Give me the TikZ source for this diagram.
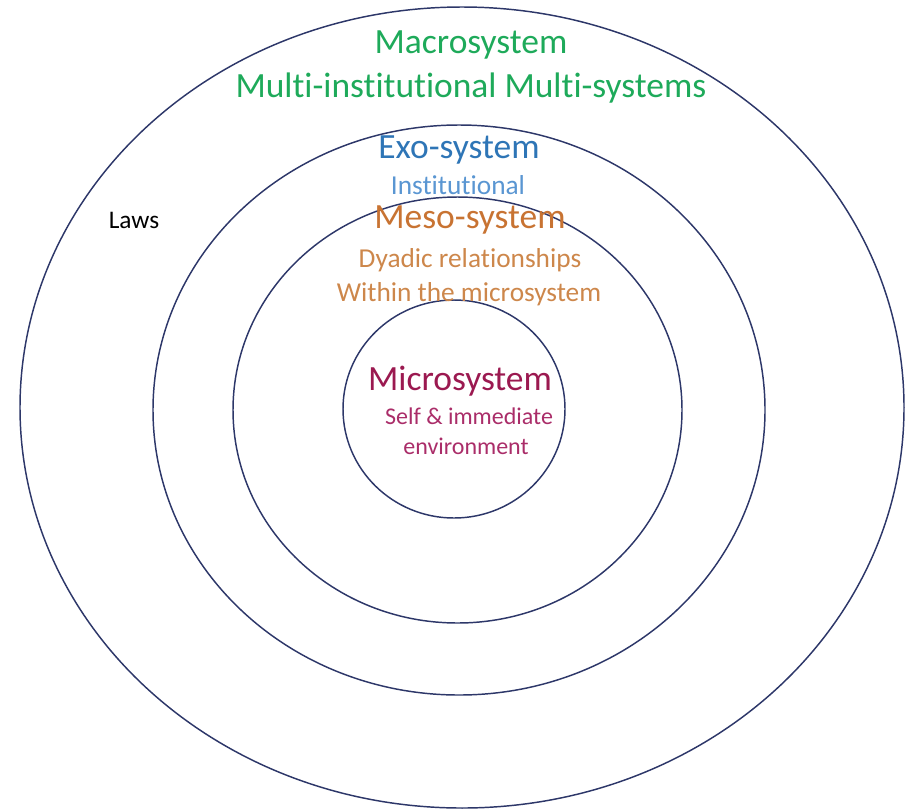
\documentclass[tikz,border=0pt]{standalone}
\usepackage{fontspec}
\setmainfont[Ligatures=NoCommon]{Carlito}
\definecolor{ringline}{RGB}{45,55,105}
\definecolor{macrogreen}{RGB}{30,170,90}
\definecolor{exoblue}{RGB}{46,117,182}
\definecolor{instblue}{RGB}{90,150,210}
\definecolor{mesoorange}{RGB}{200,115,50}
\definecolor{dyadorange}{RGB}{205,135,75}
\definecolor{micromaroon}{RGB}{155,25,80}
\definecolor{selfmaroon}{RGB}{170,45,105}
\tikzset{
    ring/.style={draw=ringline, line width=1.1pt},
    bigtext/.style={font=\fontsize{26.6}{30}\selectfont, inner sep=0pt},
    smalltext/.style={font=\fontsize{20.5}{24}\selectfont, inner sep=0pt},
    tinytext/.style={font=\fontsize{18}{21}\selectfont, inner sep=0pt}
}
\begin{document}
\begin{tikzpicture}[x=0.75pt, y=-0.75pt]
            \useasboundingbox (0, 0) rectangle (905, 811);

            \draw[ring] (462, 407.5) ellipse (442 and 400.5);
            \draw[ring] (459, 410) ellipse (306 and 285);
            \draw[ring] (457.5, 410) ellipse (224.5 and 213);
            \draw[ring] (454, 409) ellipse (111 and 109);

            \node[bigtext, text=macrogreen] (macro) at (471, 45) {Macrosystem};
            \node[bigtext, text=macrogreen] (macrosub) at (471, 88) {Multi-institutional Multi-systems};

            \node[bigtext, text=exoblue] (exo) at (459, 150) {Exo-system};
            \node[smalltext, text=instblue] (exosub) at (458, 185) {Institutional};

            \node[bigtext, text=mesoorange] (meso) at (470, 220) {Meso-system};
            \node[smalltext, text=dyadorange] (mesosub) at (470, 260) {Dyadic relationships};
            \node[smalltext, text=dyadorange] (mesosubb) at (469, 294) {Within the microsystem};

            \node[bigtext, text=micromaroon] (micro) at (460, 381) {Microsystem};
            \node[tinytext, text=selfmaroon] (microsub) at (469, 416) {Self \& immediate};
            \node[tinytext, text=selfmaroon] (microsubb) at (466, 446) {environment};

            \node[smalltext, font=\fontsize{19}{22}\selectfont] (laws) at (134, 220) {Laws};
        \end{tikzpicture}
\end{document}
